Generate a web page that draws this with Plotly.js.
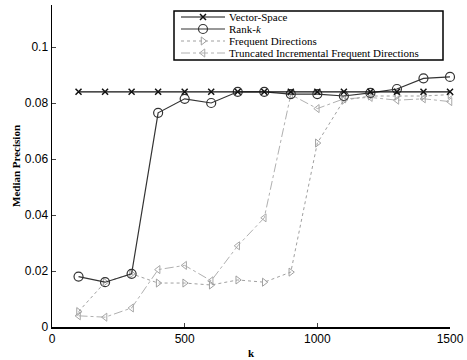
<!DOCTYPE html>
<html><head><meta charset="utf-8">
<script src="https://cdn.plot.ly/plotly-3.0.1.min.js"></script>
<style>body{margin:0;background:#fff}#c{width:467px;height:360px}</style>
</head><body><div id="c"></div>
<script>
const kValues = [100,200,300,400,500,600,700,800,900,1000,1100,1200,1300,1400,1500];
const vectorSpace = [0.084,0.084,0.084,0.084,0.084,0.084,0.084,0.084,0.084,0.084,0.084,0.084,0.084,0.084,0.084];
const rankK = [0.018,0.016,0.019,0.0765,0.0815,0.080,0.084,0.084,0.0832,0.0832,0.0825,0.0836,0.085,0.0888,0.0893];
const freqDir = [0.0055,0.016,0.019,0.0157,0.0157,0.015,0.0168,0.016,0.0196,0.0657,0.081,0.0825,0.0825,0.0825,0.083];
const truncIncFD = [0.004,0.0035,0.0068,0.0205,0.022,0.0165,0.029,0.039,0.083,0.078,0.0815,0.082,0.081,0.0815,0.0805];
const seriesNames = ['Vector-Space','Rank-<i>k</i>','Frequent Directions','Truncated Incremental Frequent Directions'];
const xTicks = [0,500,1000,1500];
const yTicks = [0,0.02,0.04,0.06,0.08,0.1];
const yTickText = ['0','0.02','0.04','0.06','0.08','0.1'];

const styles = [
  {line:{color:'#111',width:1.2},marker:{symbol:'x-thin-open',size:6,color:'#111',line:{width:1.5}}},
  {line:{color:'#333',width:1.2},marker:{symbol:'circle-open',size:9,color:'#333',line:{width:1.2}}},
  {line:{color:'#a0a0a0',width:1,dash:'dot'},marker:{symbol:'triangle-right-open',size:7,color:'#a0a0a0'}},
  {line:{color:'#b0b0b0',width:1,dash:'dashdot'},marker:{symbol:'triangle-left-open',size:7,color:'#a8a8a8'}}
];
const seriesData = [vectorSpace, rankK, freqDir, truncIncFD];

const traces = [];
[3,2,1,0].forEach(i => traces.push({x:kValues,y:seriesData[i],name:seriesNames[i],mode:'lines+markers',
  line:styles[i].line,marker:styles[i].marker,showlegend:false,cliponaxis:false}));

// custom legend (pixel-space helper axes)
const legRows = [17, 29, 41, 53];
const legX0 = 181, legX1 = 225, legTextX = 228;
const shapes = [{type:'rect',xref:'x2',yref:'y2',x0:174,x1:443,y0:11,y1:60,
  line:{color:'#000',width:1.5},fillcolor:'rgba(0,0,0,0)',layer:'above'}];
const annotations = [];
legRows.forEach((yy,i) => {
  shapes.push({type:'line',xref:'x2',yref:'y2',x0:legX0,x1:legX1,y0:yy,y1:yy,
    line:{color:styles[i].line.color,width:styles[i].line.width,dash:styles[i].line.dash||'solid'},layer:'above'});
  annotations.push({xref:'x2',yref:'y2',x:legTextX,y:yy,text:seriesNames[i],showarrow:false,borderpad:0,
    xanchor:'left',yanchor:'middle',font:{family:'Liberation Serif, serif',size:11,color:'#000'}});
  traces.push({x:[(legX0+legX1)/2],y:[yy],xaxis:'x2',yaxis:'y2',mode:'markers',showlegend:false,
    marker:styles[i].marker,cliponaxis:false});
});

const layout = {
  width:467,height:360,
  margin:{l:52,r:17,t:5,b:33},
  paper_bgcolor:'#fff',plot_bgcolor:'#fff',
  showlegend:false,
  xaxis:{range:[0,1500],tickvals:xTicks,ticktext:xTicks.map(String),ticks:'inside',ticklen:4,
    showgrid:false,zeroline:false,showline:true,linecolor:'#000',linewidth:1.5,mirror:false,
    tickfont:{family:'Liberation Sans, Arial, sans-serif',size:12,color:'#000'},
    title:{text:'<b>k</b>',font:{family:'Liberation Serif, serif',size:11,color:'#000'},standoff:4}},
  yaxis:{range:[0,0.115],tickvals:yTicks,ticktext:yTickText,ticks:'inside',ticklen:4,
    showgrid:false,zeroline:false,showline:true,linecolor:'#000',linewidth:1.5,mirror:false,
    tickfont:{family:'Liberation Sans, Arial, sans-serif',size:12,color:'#000'},
    title:{text:'<b>Median Precision</b>',font:{family:'Liberation Serif, serif',size:11,color:'#000'},standoff:2}},
  xaxis2:{overlaying:'x',range:[52,450],visible:false,fixedrange:true},
  yaxis2:{overlaying:'y',range:[327,5],visible:false,fixedrange:true},
  shapes:shapes,
  annotations:annotations
};
Plotly.newPlot('c',traces,layout,{displayModeBar:false,staticPlot:true});
</script></body></html>
